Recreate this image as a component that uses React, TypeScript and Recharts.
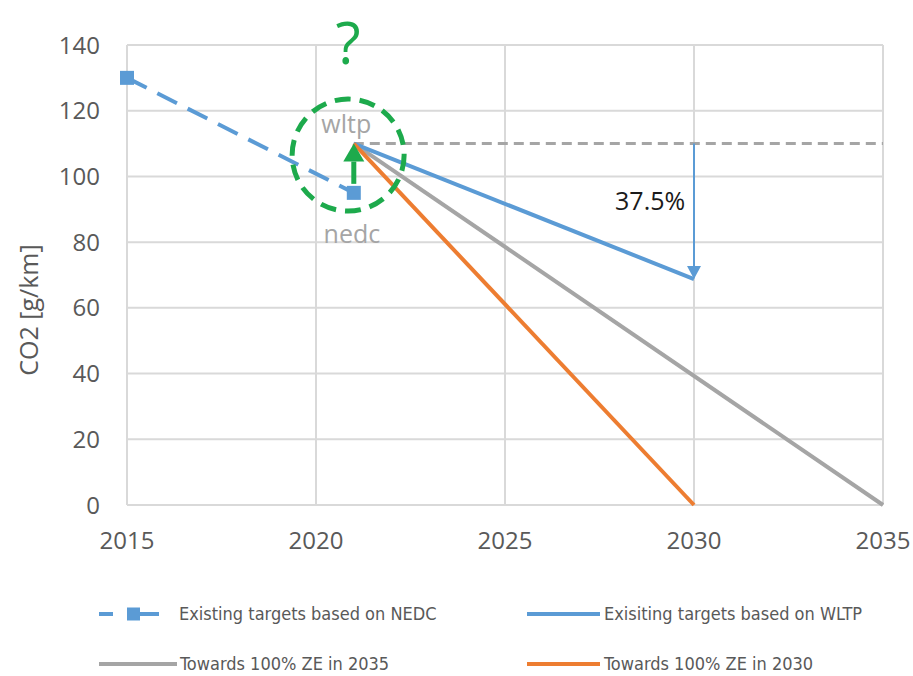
import React from 'react';
import {
  LineChart,
  Line,
  XAxis,
  YAxis,
  CartesianGrid,
  ReferenceLine,
  ReferenceDot,
  Label,
} from 'recharts';

// chart data
const nedcYears = [2015, 2021];
const nedcValues = [130, 95];
const wltpYears = [2021, 2030];
const wltpValues = [110, 68.75];
const ze2035Years = [2021, 2035];
const ze2035Values = [110, 0];
const ze2030Years = [2021, 2030];
const ze2030Values = [110, 0];
const xTicks = [2015, 2020, 2025, 2030, 2035];
const yTicks = [0, 20, 40, 60, 80, 100, 120, 140];

// annotations
const wltpLevel = 110;
const nedcLevel = 95;
const switchYear = 2021;
const reductionYear = 2030;
const reductionText = '37.5%';
const reductionTextPos = { x: 2028.84, y: 92.8 };
const circlePos = { x: 2020.85, y: 106.5 };
const questionPos = { x: 2020.85, y: 141 };
const wltpTextPos = { x: 2020.8, y: 116.3 };
const nedcTextPos = { x: 2020.95, y: 82.8 };

const BLUE = '#5B9BD5';
const GRAY = '#A5A5A5';
const ORANGE = '#ED7D31';
const GREEN = '#1DAA4C';
const TEXT = '#595959';
const FONT = '"Open Sans", "Noto Sans", sans-serif';
const LEGEND_FONT = '"Liberation Sans Narrow", "DejaVu Sans Condensed", "Noto Sans", sans-serif';

const toRows = (years: number[], values: number[]) =>
  years.map((year, i) => ({ year, v: values[i] }));

const nedcData = toRows(nedcYears, nedcValues);
const wltpData = toRows(wltpYears, wltpValues);
const ze2035Data = toRows(ze2035Years, ze2035Values);
const ze2030Data = toRows(ze2030Years, ze2030Values);

const SquareDot = (props: any) => {
  const { cx, cy } = props;
  if (cx == null || cy == null) return null;
  return <rect x={cx - 7} y={cy - 7} width={14} height={14} fill={BLUE} />;
};

// line with an arrow head at its second end
const arrowShape =
  (color: string, width: number, headLen: number, headHalf: number, startGap: number) =>
  (props: any) => {
    const { x1, y1, x2, y2 } = props;
    if ([x1, y1, x2, y2].some((n) => n == null || isNaN(n))) return null;
    const dx = x2 - x1;
    const dy = y2 - y1;
    const len = Math.sqrt(dx * dx + dy * dy) || 1;
    const ux = dx / len;
    const uy = dy / len;
    const sx = x1 + ux * startGap;
    const sy = y1 + uy * startGap;
    const bx = x2 - ux * headLen;
    const by = y2 - uy * headLen;
    const px = -uy * headHalf;
    const py = ux * headHalf;
    return (
      <g>
        <line x1={sx} y1={sy} x2={bx} y2={by} stroke={color} strokeWidth={width} />
        <polygon
          points={`${x2},${y2} ${bx + px},${by + py} ${bx - px},${by - py}`}
          fill={color}
        />
      </g>
    );
  };

const textShape = (text: string, color: string, size: number) => (props: any) => {
  const { cx, cy } = props;
  if (cx == null || cy == null) return null;
  return (
    <text
      x={cx}
      y={cy}
      textAnchor="middle"
      dominantBaseline="central"
      fontFamily={FONT}
      fontSize={size}
      fill={color}
    >
      {text}
    </text>
  );
};

const circleShape = (props: any) => {
  const { cx, cy } = props;
  if (cx == null || cy == null) return null;
  return (
    <circle
      cx={cx}
      cy={cy}
      r={56}
      fill="none"
      stroke={GREEN}
      strokeWidth={5}
      strokeDasharray="16 9"
    />
  );
};

const legendItems = [
  { name: 'Existing targets based on NEDC', color: BLUE, dashed: true, iconWidth: 62, gap: 18 },
  { name: 'Exisiting targets based on WLTP', color: BLUE, dashed: false, iconWidth: 73, gap: 4 },
  { name: 'Towards 100% ZE in 2035', color: GRAY, dashed: false, iconWidth: 78, gap: 3 },
  { name: 'Towards 100% ZE in 2030', color: ORANGE, dashed: false, iconWidth: 73, gap: 4 },
];

const LegendIcon = ({ item }: { item: (typeof legendItems)[number] }) => (
  <svg width={item.iconWidth} height={16} style={{ display: 'block' }}>
    {item.dashed ? (
      <g>
        <line x1={0} y1={8} x2={14} y2={8} stroke={item.color} strokeWidth={4} />
        <rect x={28} y={1.5} width={13} height={13} fill={item.color} />
        <line x1={41} y1={8} x2={60} y2={8} stroke={item.color} strokeWidth={4} />
      </g>
    ) : (
      <line x1={0} y1={8} x2={item.iconWidth} y2={8} stroke={item.color} strokeWidth={4} />
    )}
  </svg>
);

const ChartLegend = () => (
  <div
    style={{
      position: 'absolute',
      left: 99,
      top: 603,
      display: 'grid',
      gridTemplateColumns: '428px 360px',
      rowGap: 28,
      fontFamily: LEGEND_FONT,
      fontSize: 18,
      lineHeight: '22px',
      color: TEXT,
    }}
  >
    {legendItems.map((item) => (
      <div key={item.name} style={{ display: 'flex', alignItems: 'center', height: 22 }}>
        <LegendIcon item={item} />
        <span style={{ marginLeft: item.gap, whiteSpace: 'nowrap' }}>{item.name}</span>
      </div>
    ))}
  </div>
);

export default function App() {
  const tickStyle = { fontFamily: FONT, fontSize: 24, fill: TEXT };
  return (
    <div style={{ position: 'absolute', left: 0, top: 0, width: 913, height: 676, background: '#fff' }}>
      <LineChart
        width={913}
        height={676}
        margin={{ top: 45, right: 30, left: 67, bottom: 131 }}
      >
        <CartesianGrid stroke="#D9D9D9" strokeWidth={2} />
        <XAxis
          type="number"
          dataKey="year"
          domain={[2015, 2035]}
          ticks={xTicks}
          allowDuplicatedCategory={false}
          axisLine={false}
          tickLine={false}
          tickSize={0}
          tickMargin={27}
          height={40}
          tick={tickStyle}
        />
        <YAxis
          type="number"
          domain={[0, 140]}
          ticks={yTicks}
          axisLine={false}
          tickLine={false}
          tickSize={0}
          tickMargin={27}
          width={60}
          tick={tickStyle}
        >
          <Label
            content={(p: any) => {
              const vb = p.viewBox || {};
              const x = vb.x - 39;
              const y = vb.y + vb.height / 2 + 35;
              return (
                <text
                  x={x}
                  y={y}
                  transform={`rotate(-90 ${x} ${y})`}
                  textAnchor="middle"
                  dominantBaseline="central"
                  fontFamily={FONT}
                  fontSize={25}
                  fill={TEXT}
                >
                  CO2 [g/km]
                </text>
              );
            }}
          />
        </YAxis>

        <ReferenceLine
          segment={[
            { x: switchYear, y: wltpLevel },
            { x: 2035, y: wltpLevel },
          ]}
          stroke={GRAY}
          strokeWidth={3}
          strokeDasharray="10 6"
        />

        <Line
          data={ze2035Data}
          dataKey="v"
          name="Towards 100% ZE in 2035"
          stroke={GRAY}
          strokeWidth={4}
          dot={false}
          isAnimationActive={false}
        />
        <Line
          data={wltpData}
          dataKey="v"
          name="Exisiting targets based on WLTP"
          stroke={BLUE}
          strokeWidth={4}
          dot={false}
          isAnimationActive={false}
        />
        <Line
          data={ze2030Data}
          dataKey="v"
          name="Towards 100% ZE in 2030"
          stroke={ORANGE}
          strokeWidth={4}
          dot={false}
          isAnimationActive={false}
        />
        <Line
          data={nedcData}
          dataKey="v"
          name="Existing targets based on NEDC"
          stroke={BLUE}
          strokeWidth={4}
          strokeDasharray="22 12"
          dot={<SquareDot />}
          isAnimationActive={false}
        />

        <ReferenceLine
          segment={[
            { x: reductionYear, y: wltpLevel },
            { x: reductionYear, y: wltpValues[1] },
          ]}
          shape={arrowShape(BLUE, 2, 13, 7, 0)}
        />
        <ReferenceLine
          segment={[
            { x: switchYear, y: nedcLevel },
            { x: switchYear, y: wltpLevel },
          ]}
          shape={arrowShape(GREEN, 5, 18, 10.5, 9)}
        />

        <ReferenceDot x={circlePos.x} y={circlePos.y} r={56} shape={circleShape} ifOverflow="visible" />
        <ReferenceDot
          x={wltpTextPos.x}
          y={wltpTextPos.y}
          r={1}
          shape={textShape('wltp', GRAY, 25)}
          ifOverflow="visible"
        />
        <ReferenceDot
          x={nedcTextPos.x}
          y={nedcTextPos.y}
          r={1}
          shape={textShape('nedc', GRAY, 25)}
          ifOverflow="visible"
        />
        <ReferenceDot
          x={questionPos.x}
          y={questionPos.y}
          r={1}
          shape={textShape('?', GREEN, 58)}
          ifOverflow="visible"
        />
        <ReferenceDot
          x={reductionTextPos.x}
          y={reductionTextPos.y}
          r={1}
          shape={textShape(reductionText, '#1a1a1a', 25)}
          ifOverflow="visible"
        />
      </LineChart>
      <ChartLegend />
    </div>
  );
}
